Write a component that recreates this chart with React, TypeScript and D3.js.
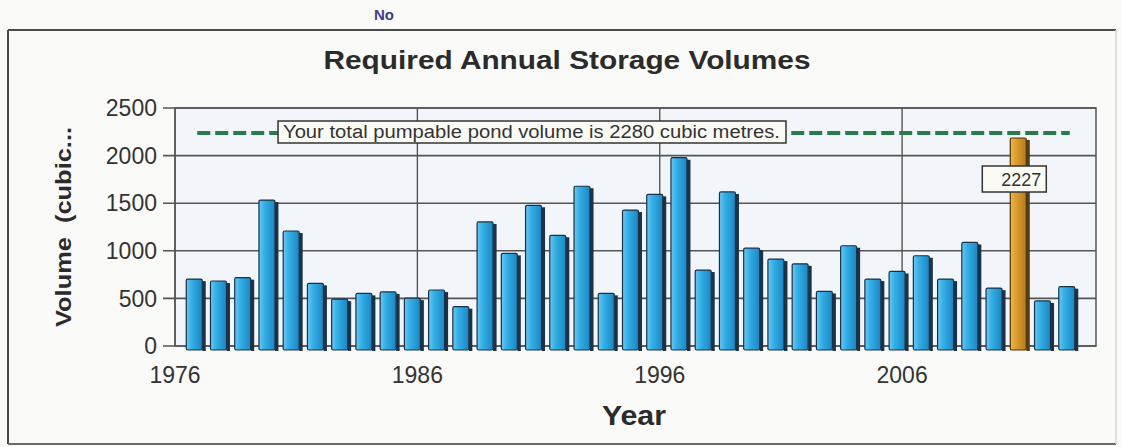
import React from "react";
import * as d3 from "d3";

const years = [1977, 1978, 1979, 1980, 1981, 1982, 1983, 1984, 1985, 1986, 1987, 1988, 1989, 1990, 1991, 1992, 1993, 1994, 1995, 1996, 1997, 1998, 1999, 2000, 2001, 2002, 2003, 2004, 2005, 2006, 2007, 2008, 2009, 2010, 2011, 2012, 2013];
const volumes = [745, 725, 760, 1575, 1250, 700, 535, 595, 610, 545, 630, 455, 1345, 1015, 1520, 1205, 1720, 595, 1470, 1635, 2020, 840, 1660, 1070, 955, 905, 615, 1095, 745, 825, 990, 745, 1130, 650, 2227, 515, 665];
const highlightYear = 2011;
const pondVolume = 2280;
const pondLabel = "Your total pumpable pond volume is 2280 cubic metres.";
const yTicks = [0, 500, 1000, 1500, 2000, 2500];
const xTicks = [1976, 1986, 1996, 2006];
const title = "Required Annual Storage Volumes";
const topLabel = "No";
const xTitle = "Year";
const yTitle = "Volume  (cubic...";

export default function App() {
  const W = 1122, H = 447;
  const left = 175, right = 1096, top = 108, bottom = 346;
  const x = d3.scaleLinear().domain([1976, 2014]).range([left, right]);
  const y = d3.scaleLinear().domain([0, 2500]).range([bottom, top]);
  // 3D depth offset of front faces
  const dx = -2, dy = 4;
  const font = "Arial, 'Liberation Sans', sans-serif";
  const hx = x(highlightYear) + dx;
  const hv = volumes[years.indexOf(highlightYear)];

  return (
    <svg width={W} height={H} style={{ position: "absolute", left: 0, top: 0, background: "#fbfbfa" }} fontFamily={font}>
      <defs>
        <linearGradient id="gBlue" x1="0" x2="1" y1="0" y2="0">
          <stop offset="0" stopColor="#6cc8f0" />
          <stop offset="0.35" stopColor="#33aee6" />
          <stop offset="1" stopColor="#1d86c2" />
        </linearGradient>
        <linearGradient id="gOrange" x1="0" x2="1" y1="0" y2="0">
          <stop offset="0" stopColor="#efb850" />
          <stop offset="0.35" stopColor="#dc9e2e" />
          <stop offset="1" stopColor="#b67c1d" />
        </linearGradient>
      </defs>
      <text x={384} y={20} textAnchor="middle" fontSize={15} fontWeight="bold" fill="#3d3f86">{topLabel}</text>
      <rect x={8} y={30} width={1108} height={414} fill="#fafaf9" stroke="none" />
      <line x1={8} x2={1116} y1={30} y2={30} stroke="#4a4a4a" strokeWidth={2} />
      <line x1={8} x2={8} y1={30} y2={444} stroke="#4a4a4a" strokeWidth={2} />
      <line x1={8} x2={1116} y1={444} y2={444} stroke="#6a6a6a" strokeWidth={2} />
      <line x1={1116} x2={1116} y1={30} y2={444} stroke="#d4d4d4" strokeWidth={1.5} />
      <text x={567} y={69} textAnchor="middle" fontSize={26} fontWeight="bold" fill="#2b2b2b" textLength={487} lengthAdjust="spacingAndGlyphs">{title}</text>

      {/* plot area */}
      <rect x={left} y={top} width={right - left} height={bottom - top} fill="#f2f6fa" stroke="#555" strokeWidth={1.5} />
      {yTicks.map((t) => (
        <g key={"y" + t}>
          <line x1={163} x2={right} y1={y(t)} y2={y(t)} stroke="#555" strokeWidth={1.6} />
          <text x={157} y={y(t)} dy="0.36em" textAnchor="end" fontSize={23} fill="#333">{t}</text>
        </g>
      ))}
      {xTicks.map((t) => (
        <g key={"x" + t}>
          <line x1={x(t)} x2={x(t)} y1={top} y2={bottom} stroke="#555" strokeWidth={1.4} />
          <text x={x(t)} y={383} textAnchor="middle" fontSize={23} fill="#333">{t}</text>
        </g>
      ))}

      {/* bars */}
      {years.map((yr, i) => {
        const cx = x(yr) + dx;
        const v = volumes[i];
        const yt = y(v) + dy;
        const yb = bottom + dy;
        const hi = yr === highlightYear;
        return (
          <g key={yr}>
            <rect x={cx + 5} y={yt + 2} width={3.5} height={yb - yt - 1} fill={hi ? "#5a3c0e" : "#1c3347"} />
            <rect x={cx - 11} y={yt} width={16} height={yb - yt} rx={1.5} fill={hi ? "url(#gOrange)" : "url(#gBlue)"} stroke={hi ? "#4a3208" : "#173247"} strokeWidth={1.2} />
          </g>
        );
      })}

      {/* pond volume line */}
      <line x1={x(years[0]) + dx} x2={x(years[years.length - 1]) + dx} y1={y(pondVolume) + dy} y2={y(pondVolume) + dy} stroke="#2b7a4b" strokeWidth={4} strokeDasharray="13,5" />
      <rect x={278} y={121} width={508} height={22} fill="#fbfbf6" stroke="#333" strokeWidth={1.5} />
      <text x={283} y={138} fontSize={18} fill="#333" textLength={497} lengthAdjust="spacingAndGlyphs">{pondLabel}</text>

      {/* highlight label */}
      <rect x={hx - 39} y={166} width={64} height={26} fill="#fbfbf6" stroke="#333" strokeWidth={1.5} />
      <text x={hx + 20} y={186} textAnchor="end" fontSize={18} fill="#333">{hv}</text>

      {/* axis titles */}
      <text x={634} y={425} textAnchor="middle" fontSize={27} fontWeight="bold" fill="#2b2b2b" textLength={64} lengthAdjust="spacingAndGlyphs">{xTitle}</text>
      <text transform={`translate(71,227) rotate(-90)`} textAnchor="middle" fontSize={22} fontWeight="bold" fill="#2b2b2b" style={{ whiteSpace: "pre" }} textLength={200} lengthAdjust="spacingAndGlyphs">{yTitle}</text>
    </svg>
  );
}
